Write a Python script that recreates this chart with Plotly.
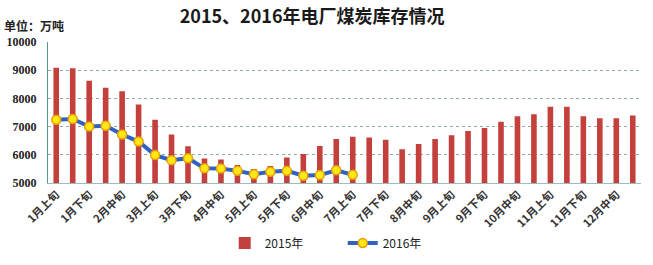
import plotly.graph_objects as go

months = ["1月", "2月", "3月", "4月", "5月", "6月", "7月", "8月", "9月", "10月", "11月", "12月"]
periods = ["上旬", "中旬", "下旬"]
categories = [m + p for m in months for p in periods]

stock_2015 = [9090, 9070, 8630, 8380, 8250, 7780, 7240, 6720, 6300, 5870, 5830, 5640,
              5500, 5600, 5900, 6030, 6310, 6560, 6640, 6610, 6530, 6200, 6380, 6560,
              6690, 6840, 6950, 7170, 7370, 7440, 7700, 7700, 7370, 7300, 7300, 7390]

stock_2016 = [7240, 7270, 7000, 7030, 6720, 6470, 5990, 5810, 5880, 5520, 5510, 5430,
              5310, 5400, 5430, 5260, 5280, 5450, 5290]

tick_labels = categories[::2]

fig = go.Figure()
fig.add_trace(go.Bar(
    x=categories, y=stock_2015, name="2015年",
    marker=dict(color="#C4403C", line=dict(width=0)),
    width=0.34,
))
fig.add_trace(go.Scatter(
    x=categories[:len(stock_2016)], y=stock_2016, name="2016年",
    mode="lines+markers",
    line=dict(color="#2F62C2", width=4),
    marker=dict(color="#FFE617", size=9, line=dict(color="#E8A000", width=1.5)),
))

fig.update_layout(
    width=653, height=265,
    margin=dict(l=48, r=12, t=42, b=82, autoexpand=False),
    paper_bgcolor="white", plot_bgcolor="white",
    title=dict(text="<b>2015、2016年电厂煤炭库存情况</b>", x=0.478, xanchor="center", y=0.938, yanchor="middle",
               font=dict(family="Noto Sans CJK SC", size=18, color="#1a1a1a")),
    showlegend=True,
    legend=dict(orientation="h", x=0.298, xanchor="left", y=-0.425, yanchor="middle",
                font=dict(family="Noto Sans CJK SC", size=12, color="#222"),
                entrywidth=73, bgcolor="rgba(0,0,0,0)"),
    bargap=0.6,
    annotations=[dict(text="<b>单位：万吨</b>", xref="paper", yref="paper", x=-0.078, y=1.12,
                      xanchor="left", yanchor="middle", showarrow=False,
                      font=dict(family="Noto Sans CJK SC", size=12, color="#222"))],
)

fig.update_xaxes(
    type="category", categoryorder="array", categoryarray=categories,
    range=[-0.5, len(categories) - 0.5],
    tickvals=tick_labels, ticktext=["<b>" + t + "</b>" for t in tick_labels], tickangle=-45,
    tickfont=dict(family="Noto Sans CJK SC", size=11, color="#333"),
    showgrid=False, showline=True, linecolor="#9BBFB8", linewidth=1, ticks="", automargin=False,
)
fig.update_yaxes(
    range=[5000, 10000], dtick=1000, tickformat="d",
    showgrid=True, gridcolor="#8FA8A8", griddash="dot", gridwidth=1,
    showline=True, linecolor="#5A9A8A", linewidth=1, ticks="", ticklabelstandoff=8,
    tickfont=dict(family="Liberation Serif", size=12, color="#222", weight="bold"),
    zeroline=False, automargin=False,
)

fig.write_html("out.html")
